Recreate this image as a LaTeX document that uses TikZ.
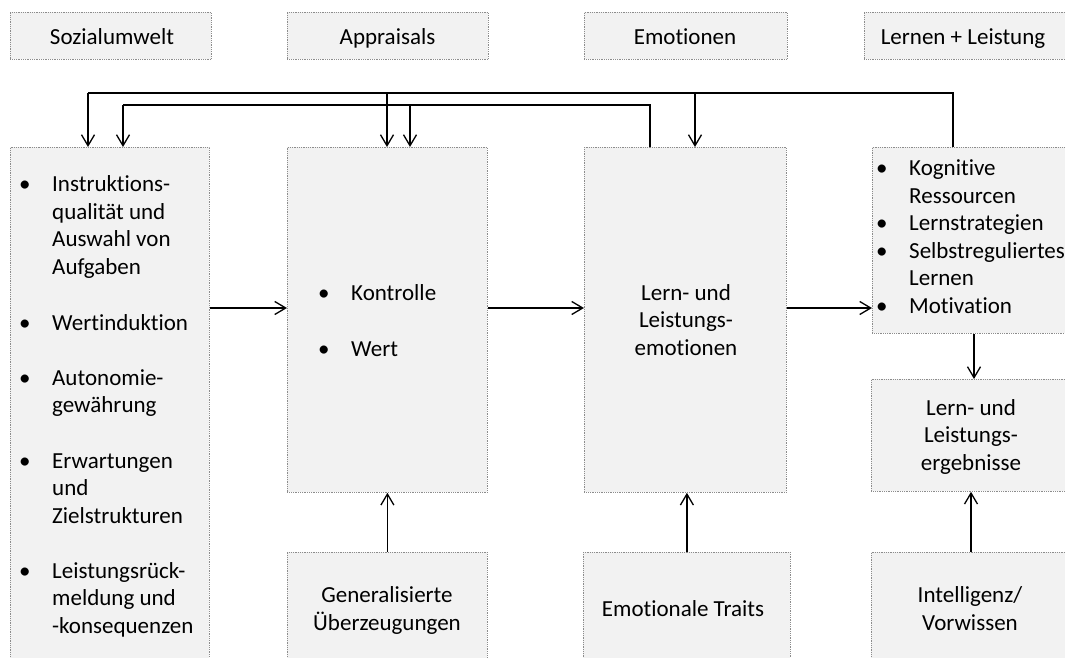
\documentclass[tikz,border=0pt]{standalone}
\usepackage{fontspec}
\setmainfont[Ligatures=NoCommon]{Carlito}
\usetikzlibrary{arrows.meta}
\definecolor{boxfill}{HTML}{F2F2F2}
\definecolor{boxline}{HTML}{8C8C8C}
\tikzset{
  box/.style={draw=boxline, densely dotted, line width=0.8pt, fill=boxfill, inner sep=0pt, anchor=north west},
  lbl/.style={font=\fontsize{23}{27.5}\selectfont, inner sep=0pt, text=black},
  arr/.style={-{Straight Barb[length=11pt,width=13pt]}, line width=1.3pt, draw=black},
  ln/.style={line width=1.3pt, draw=black}
}
\newcommand{\bul}{\makebox[33pt][l]{•}}
\newcommand{\ind}{\hspace*{33pt}}
\begin{document}
\begin{tikzpicture}[x=1pt,y=-1pt]
\useasboundingbox (0,0) rectangle (1065,658);
\clip (0,0) rectangle (1065,658);
% header boxes
\node[box, minimum width=201pt, minimum height=47pt] (h1) at (10,12) {};
\node[box, minimum width=201pt, minimum height=47pt] (h2) at (287,12) {};
\node[box, minimum width=203pt, minimum height=47pt] (h3) at (584,12) {};
\node[box, minimum width=210pt, minimum height=47pt] (h4) at (864,12) {};
\node[lbl, anchor=base] (t1) at (112,45) {Sozialumwelt};
\node[lbl, anchor=base] (t2) at (387.5,45) {Appraisals};
\node[lbl, anchor=base] (t3) at (685,45) {Emotionen};
\node[lbl, anchor=base] (t4) at (963,45) {Lernen + Leistung};
% main boxes
\node[box, minimum width=199pt, minimum height=530pt] (soz) at (10,147) {};
\node[box, minimum width=200pt, minimum height=345pt] (app) at (287,147) {};
\node[box, minimum width=202pt, minimum height=345pt] (emo) at (584,147) {};
\node[box, minimum width=210pt, minimum height=186pt] (ler) at (872,147) {};
\node[box, minimum width=210pt, minimum height=112pt] (erg) at (871,379) {};
\node[box, minimum width=200pt, minimum height=130pt] (gen) at (287,552) {};
\node[box, minimum width=207pt, minimum height=130pt] (trt) at (583,552) {};
\node[box, minimum width=210pt, minimum height=130pt] (int) at (871,552) {};
% Sozialumwelt items (anchor = baseline of last line)
\node[lbl, anchor=base west, align=left] (s1) at (19,274) {\bul Instruktions-\\\ind qualität und\\\ind Auswahl von\\\ind Aufgaben};
\node[lbl, anchor=base west, align=left] (s2) at (19,330) {\bul Wertinduktion};
\node[lbl, anchor=base west, align=left] (s3) at (19,412.5) {\bul Autonomie-\\\ind gewährung};
\node[lbl, anchor=base west, align=left] (s4) at (19,523) {\bul Erwartungen\\\ind und\\\ind Zielstrukturen};
\node[lbl, anchor=base west, align=left] (s5) at (19,633) {\bul Leistungsrück-\\\ind meldung und\\\ind -konsequenzen};
% Appraisals items
\node[lbl, anchor=base west] (a1) at (318,300) {\bul Kontrolle};
\node[lbl, anchor=base west] (a2) at (318,356) {\bul Wert};
% Emotions
\node[lbl, anchor=base, align=center] (e1) at (686,355) {Lern- und\\Leistungs-\\emotionen};
% Lernen items
\node[lbl, anchor=base west, align=left] (l1) at (876,313) {\bul Kognitive\\\ind Ressourcen\\\bul Lernstrategien\\\bul Selbstreguliertes\\\ind Lernen\\\bul Motivation};
\node[lbl, anchor=base, align=center] (g1) at (971,470) {Lern- und\\Leistungs-\\ergebnisse};
\node[lbl, anchor=base, align=center] (b1) at (387,630) {Generalisierte\\Überzeugungen};
\node[lbl, anchor=base, align=center] (b2) at (683,616) {Emotionale Traits};
\node[lbl, anchor=base, align=center] (b3) at (970,630) {Intelligenz/\\Vorwissen};
% reference coordinates
\coordinate (row) at (0,308);
\coordinate (yA) at (0,93);
\coordinate (yB) at (0,105);
\coordinate (xA0) at (88,0);
\coordinate (xA1) at (387,0);
\coordinate (xA2) at (695,0);
\coordinate (xA3) at (953,0);
\coordinate (xB0) at (123,0);
\coordinate (xB1) at (410,0);
\coordinate (xB2) at (650,0);
\coordinate (xR) at (974,0);
\coordinate (xI) at (971,0);
% forward arrows
\draw[arr] (soz.east |- row) -- (app.west |- row);
\draw[arr] (app.east |- row) -- (emo.west |- row);
\draw[arr] (emo.east |- row) -- (ler.west |- row);
\draw[arr] (ler.south -| xR) -- (erg.north -| xR);
\draw[arr] (gen.north) -- (app.south);
\draw[arr] (trt.north) -- (trt.north |- emo.south);
\draw[arr] (int.north -| xI) -- (erg.south -| xI);
% feedback A
\draw[ln] (ler.north -| xA3) -- (xA3 |- yA) -- (xA0 |- yA);
\draw[arr] (xA0 |- yA) -- (soz.north -| xA0);
\draw[arr] (xA1 |- yA) -- (app.north -| xA1);
\draw[arr] (xA2 |- yA) -- (emo.north -| xA2);
% feedback B
\draw[ln] (emo.north -| xB2) -- (xB2 |- yB) -- (xB0 |- yB);
\draw[arr] (xB0 |- yB) -- (soz.north -| xB0);
\draw[arr] (xB1 |- yB) -- (app.north -| xB1);
\end{tikzpicture}
\end{document}
